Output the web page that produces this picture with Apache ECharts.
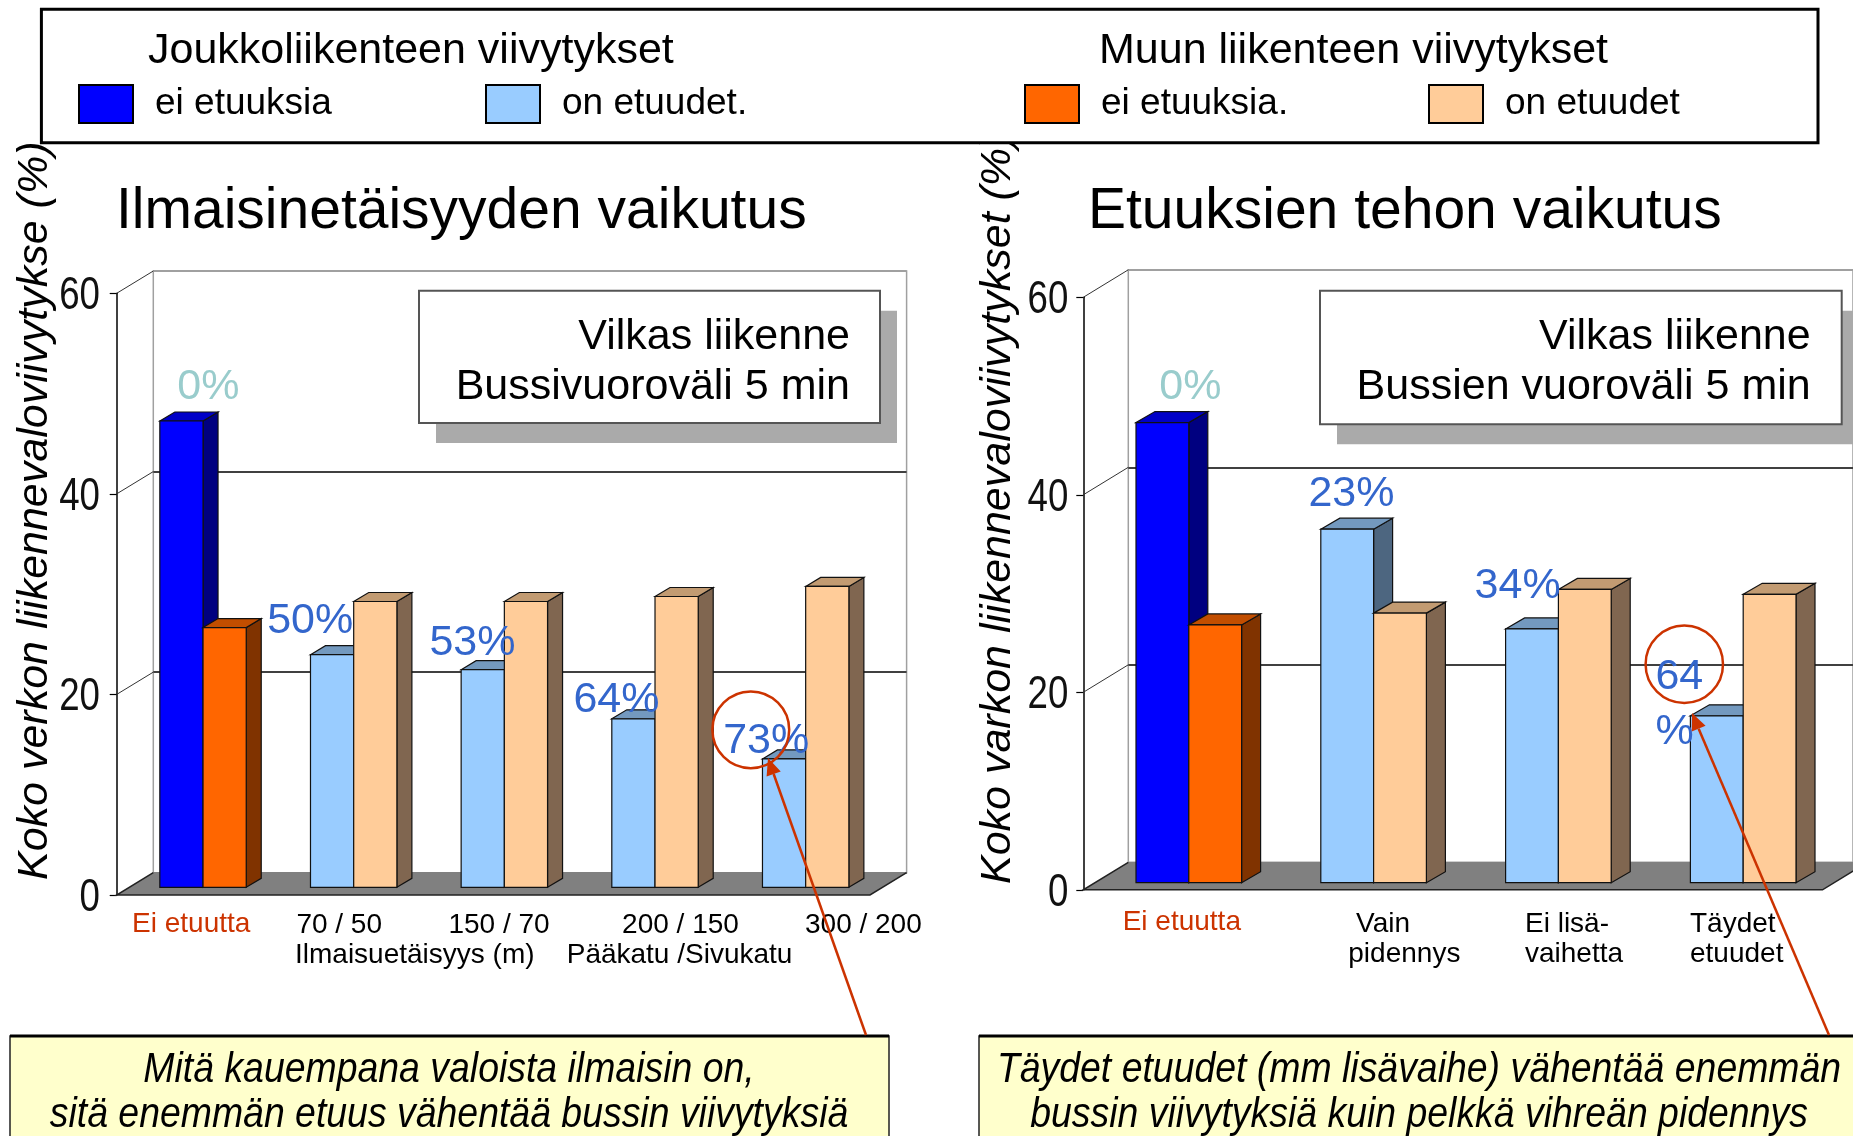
<!DOCTYPE html>
<html>
<head>
<meta charset="utf-8">
<title>Viivytykset</title>
<script src="https://cdn.jsdelivr.net/npm/echarts/dist/echarts.min.js"></script>
<style>
html, body { margin: 0; padding: 0; background: #fff; }
#main { width: 1853px; height: 1136px; }
</style>
</head>
<body>
<div id="main"></div>
<script>
// kategoriat ja akselin jaot
const leftCats = ['Ei etuutta', '70 / 50', '150 / 70', '200 / 150', '300 / 200']
const rightCats = ['Ei etuutta', ' Vain\npidennys', 'Ei lisä-\nvaihetta', 'Täydet\netuudet']
const yTicks = [0, 20, 40, 60]

// joukkoliikenne (jl) ja muu liikenne (mu), luettu kuvasta
const leftJlEi = [46.5, null, null, null, null]
const leftJlOn = [null, 23.2, 21.7, 16.8, 12.8]
const leftMuEi = [25.9, null, null, null, null]
const leftMuOn = [null, 28.5, 28.5, 29.0, 30.0]
const rightJlEi = [46.6, null, null, null]
const rightJlOn = [null, 35.8, 25.7, 16.9]
const rightMuEi = [26.1, null, null, null]
const rightMuOn = [null, 27.3, 29.7, 29.2]

// vähennysprosentit
const leftPct = ['0%', '50%', '53%', '64%', '73%']
const rightPct = ['0%', '23%', '34%', '64\n%']

const FONT = '"Liberation Sans", Arial, sans-serif'
const MID = 0.27 // keskilinjan etäisyys peruslinjasta (em)

const names = ['ei etuuksia', 'on etuudet.', 'ei etuuksia.', 'on etuudet']
const faces = {
    'ei etuuksia': { front: '#0000ff', side: '#000080', top: '#0000c8' },
    'on etuudet.': { front: '#99ccff', side: '#4d6680', top: '#7399bf' },
    'ei etuuksia.': { front: '#ff6600', side: '#803300', top: '#c24e00' },
    'on etuudet': { front: '#ffcc99', side: '#806650', top: '#c29b72' }
}

// 3D-asettelu: etutaso = grid, takaseinä siirretty syvyyden verran
const layout = [
    {
        front: { left: 116.7, top: 293.3, width: 753.3, height: 601.7 }, depth: [36.6, -22.3],
        barOff: [11, -7.7], barW: 43.2, barDepth: [15, -9], tickGap: 16.7,
        pctOff: [[17.4, -22.7], [-43.3, -21.6], [-31.7, -15], [-38.4, -7.3], [-39.3, -6]],
        xlab: [[-0.8, 36.5, 'center'], [-3.5, 37.5, 'center'], [5.7, 37.5, 'center'], [36.5, 37.5, 'center'], [68.7, 37.5, 'center']]
    },
    {
        front: { left: 1083.3, top: 297.3, width: 739.2, height: 592.5 }, depth: [45, -27.5],
        barOff: [13.1, -7.1], barW: 52.8, barDepth: [19, -11], tickGap: 15,
        pctOff: [[23.3, -23.4], [-12.4, -23.3], [-31, -31], [-35, -27.4]],
        xlab: [[6.1, 40.5, 'center'], [-12.2, 42, 'left'], [-20.3, 42, 'left'], [-40.1, 42, 'left']]
    }
]

function toData(arr) {
    return arr.map((v, i) => v == null ? null : [i, v]).filter(Boolean)
}

function barRender(c, slot, col) {
    return function (params, api) {
        const L = layout[c]
        const top = api.coord([api.value(0), api.value(1)])
        const base = api.coord([api.value(0), 0])
        const x0 = top[0] + L.barOff[0] + (slot - 1) * L.barW
        const xr = x0 + L.barW
        const yt = top[1] + L.barOff[1]
        const yb = base[1] + L.barOff[1]
        const dx = L.barDepth[0], dy = L.barDepth[1]
        const edge = { stroke: '#111', lineWidth: 1.2 }
        return {
            type: 'group',
            children: [
                { type: 'polygon', shape: { points: [[xr, yt], [xr + dx, yt + dy], [xr + dx, yb + dy], [xr, yb]] }, style: Object.assign({ fill: col.side }, edge) },
                { type: 'polygon', shape: { points: [[x0, yt], [x0 + dx, yt + dy], [xr + dx, yt + dy], [xr, yt]] }, style: Object.assign({ fill: col.top }, edge) },
                { type: 'rect', shape: { x: x0, y: yt, width: L.barW, height: yb - yt }, style: Object.assign({ fill: col.front }, edge) }
            ]
        }
    }
}

// lattia, syvyysviivat ja y-akselin kapeat luvut
function frameRender(c) {
    return function (params, api) {
        const L = layout[c], cs = params.coordSys
        const dx = L.depth[0], dy = L.depth[1]
        const y0 = cs.y + cs.height, xl = cs.x, xr = cs.x + cs.width
        const kids = [
            { type: 'polygon', shape: { points: [[xl, y0], [xr, y0], [xr + dx, y0 + dy], [xl + dx, y0 + dy]] }, style: { fill: '#808080' } },
            { type: 'polyline', shape: { points: [[xl + dx, y0 + dy], [xl, y0], [xr, y0], [xr + dx, y0 + dy]] }, style: { stroke: '#222', lineWidth: 1.5, fill: 'none' } }
        ]
        yTicks.forEach(v => {
            const y = api.coord([0, v])[1]
            if (v > yTicks[0]) {
                kids.push({ type: 'line', shape: { x1: xl, y1: y, x2: xl + dx, y2: y + dy }, style: { stroke: '#333', lineWidth: 1 } })
            }
            kids.push({
                type: 'text', x: xl - L.tickGap, y: y + 3, scaleX: 0.78,
                style: { text: String(v), x: 0, y: 0, font: '47px ' + FONT, fill: '#111', textAlign: 'right', textVerticalAlign: 'middle' }
            })
        })
        return { type: 'group', children: kids }
    }
}

function pctRender(c, labels) {
    return function (params, api) {
        const L = layout[c]
        const i = api.value(0)
        const p = api.coord([i, api.value(1)])
        const off = L.pctOff[i]
        const x = p[0] + L.barOff[0] - L.barW + off[0]
        const base = p[1] + L.barOff[1] + off[1]
        const lines = labels[i].split('\n').length
        return {
            type: 'text',
            style: {
                text: labels[i], x: x, y: base - 43 * MID + (lines - 1) * 27.5,
                font: '43px ' + FONT, fill: i === 0 ? '#99cccc' : '#3366cc',
                textAlign: 'left', textVerticalAlign: 'middle', lineHeight: 55
            }
        }
    }
}

function xlabRender(c, cats) {
    return function (params, api) {
        const i = api.value(0)
        const p = api.coord([i, 0])
        const o = layout[c].xlab[i]
        const lines = cats[i].split('\n').length
        return {
            type: 'text',
            style: {
                text: cats[i], x: p[0] + o[0], y: p[1] + o[1] - 28 * MID + (lines - 1) * 15,
                font: '28px ' + FONT, fill: i === 0 ? '#cc3300' : '#000',
                textAlign: o[2], textVerticalAlign: 'middle', lineHeight: 30
            }
        }
    }
}

function chartSeries(c, cats, jlEi, jlOn, muEi, muOn, pct) {
    const ax = c * 2
    const out = [{
        name: 'frame' + c, type: 'custom', xAxisIndex: ax, yAxisIndex: ax, z: 2, silent: true,
        renderItem: frameRender(c), data: [[0, 0]], encode: { x: 0, y: 1 }
    }]
    const sets = [jlEi, jlOn, muEi, muOn]
    sets.forEach((arr, k) => {
        const nm = names[k]
        out.push({
            name: nm, type: 'custom', xAxisIndex: ax, yAxisIndex: ax, z: 3,
            itemStyle: { color: faces[nm].front },
            renderItem: barRender(c, k < 2 ? 0 : 1, faces[nm]),
            data: toData(arr), encode: { x: 0, y: 1 }
        })
    })
    const jl = cats.map((_, i) => jlEi[i] != null ? jlEi[i] : jlOn[i])
    out.push({
        name: 'pct' + c, type: 'custom', xAxisIndex: ax, yAxisIndex: ax, z: 4, silent: true,
        renderItem: pctRender(c, pct), data: jl.map((v, i) => [i, v]), encode: { x: 0, y: 1 }
    })
    out.push({
        name: 'xlab' + c, type: 'custom', xAxisIndex: ax, yAxisIndex: ax, z: 4, silent: true,
        renderItem: xlabRender(c, cats), data: cats.map((_, i) => [i, 0]), encode: { x: 0, y: 1 }
    })
    return out
}

function grids() {
    const g = []
    layout.forEach(L => {
        const f = L.front
        g.push({ left: f.left, top: f.top, width: f.width, height: f.height })
        g.push({
            left: f.left + L.depth[0], top: f.top + L.depth[1], width: f.width, height: f.height,
            show: true, borderColor: '#a0a0a0', borderWidth: 1.5, backgroundColor: 'transparent'
        })
    })
    return g
}

const yBase = { type: 'value', min: yTicks[0], max: yTicks[yTicks.length - 1], interval: yTicks[1] - yTicks[0] }
function frontY(gi) {
    return Object.assign({}, yBase, {
        gridIndex: gi,
        axisLine: { show: true, lineStyle: { color: '#000', width: 1.5 } },
        axisTick: { show: true, length: 7, lineStyle: { color: '#000', width: 1.2 } },
        axisLabel: { show: false },
        splitLine: { show: false }
    })
}
function backY(gi) {
    return Object.assign({}, yBase, {
        gridIndex: gi,
        axisLine: { show: false }, axisTick: { show: false }, axisLabel: { show: false },
        splitLine: { show: true, lineStyle: { color: ['#808080', '#404040', '#404040', '#a0a0a0'], width: 2 } }
    })
}
function hiddenX(gi, cats) {
    return { type: 'category', gridIndex: gi, data: cats, show: false }
}

function txt(x, baseline, text, size, extra) {
    return Object.assign({
        type: 'text', z: 4,
        style: { text: text, x: x, y: baseline - size * MID, font: size + 'px ' + FONT, fill: '#000', textAlign: 'left', textVerticalAlign: 'middle' }
    }, extra || {})
}
function styled(el, st) {
    Object.assign(el.style, st)
    return el
}

function arrow(x1, y1, x2, y2) {
    const len = Math.hypot(x2 - x1, y2 - y1)
    const ux = (x2 - x1) / len, uy = (y2 - y1) / len
    const bx = x2 - ux * 17, by = y2 - uy * 17
    return [
        { type: 'line', z: 10, shape: { x1: x1, y1: y1, x2: bx, y2: by }, style: { stroke: '#cc3300', lineWidth: 2.5 } },
        { type: 'polygon', z: 10, shape: { points: [[x2, y2], [bx - uy * 7.5, by + ux * 7.5], [bx + uy * 7.5, by - ux * 7.5]] }, style: { fill: '#cc3300' } }
    ]
}

function insetBox(x, y, w, h, tx, l1, l2) {
    return [
        { type: 'rect', z: 4, shape: { x: x + 17, y: y + 20, width: w, height: h }, style: { fill: '#aaaaaa' } },
        { type: 'rect', z: 4, shape: { x: x, y: y, width: w, height: h }, style: { fill: '#fff', stroke: '#555', lineWidth: 2 } },
        styled(txt(tx, 348.5, l1, 43), { textAlign: 'right' }),
        styled(txt(tx, 398.5, l2, 43), { textAlign: 'right' })
    ]
}

// kapea kursiivi: skaalataan keskipisteen ympäri
function noteLine(cx, baseline, text) {
    return {
        type: 'text', z: 4, x: cx, y: baseline - 43 * MID, scaleX: 0.87,
        style: { text: text, x: 0, y: 0, font: 'italic 43px ' + FONT, fill: '#000', textAlign: 'center', textVerticalAlign: 'middle' }
    }
}

function noteBox(x, w, cx, l1, l2) {
    return [
        { type: 'rect', z: 4, shape: { x: x, y: 1036, width: w, height: 110 }, style: { fill: '#ffffcc', stroke: '#222', lineWidth: 1.5 } },
        { type: 'line', z: 4, shape: { x1: x, y1: 1036, x2: x + w, y2: 1036 }, style: { stroke: '#000', lineWidth: 3 } },
        noteLine(cx, 1081.5, l1),
        noteLine(cx, 1126.5, l2)
    ]
}

function legendItem(name, left) {
    return {
        data: [name], left: left, top: 84, padding: 0, orient: 'horizontal', z: 6,
        icon: 'rect', itemWidth: 54, itemHeight: 38,
        itemStyle: { borderColor: '#000', borderWidth: 2 },
        textStyle: { fontSize: 37, fontFamily: FONT, color: '#000', padding: [6, 0, 0, 17] },
        selectedMode: false
    }
}

var myChart = echarts.init(document.getElementById('main'), null, { renderer: 'canvas' })

const graphics = [].concat(
    [
        { type: 'text', z: 1, x: 35, y: 880, rotation: Math.PI / 2, style: { text: 'Koko verkon liikennevaloviivytykse (%)', x: 0, y: 0, font: 'italic 43px ' + FONT, fill: '#000', textAlign: 'left', textVerticalAlign: 'middle' } },
        { type: 'text', z: 1, x: 998.5, y: 884, rotation: Math.PI / 2, style: { text: 'Koko varkon liikennevaloviivytykset (%)', x: 0, y: 0, font: 'italic 43px ' + FONT, fill: '#000', textAlign: 'left', textVerticalAlign: 'middle' } },
        { type: 'rect', z: 3, shape: { x: 41.4, y: 9.3, width: 1776.6, height: 133.4 }, style: { fill: '#fff', stroke: '#000', lineWidth: 3 } },
        txt(148, 62.5, 'Joukkoliikenteen viivytykset', 43),
        txt(1099, 62.5, 'Muun liikenteen viivytykset', 43),
        txt(116, 228, 'Ilmaisinetäisyyden vaikutus', 57),
        txt(1088, 228, 'Etuuksien tehon vaikutus', 57),
        txt(295, 963, 'Ilmaisuetäisyys (m)', 28),
        txt(566.7, 963, 'Pääkatu /Sivukatu', 28)
    ],
    insetBox(419, 290.7, 461, 132.3, 850, 'Vilkas liikenne', 'Bussivuoroväli 5 min'),
    insetBox(1320, 290.7, 521.7, 133.6, 1810.7, 'Vilkas liikenne', 'Bussien vuoroväli 5 min'),
    noteBox(10, 879, 449, 'Mitä kauempana valoista ilmaisin on,', 'sitä enemmän etuus vähentää bussin viivytyksiä'),
    noteBox(979, 900, 1419, 'Täydet etuudet (mm lisävaihe) vähentää enemmän', 'bussin viivytyksiä kuin pelkkä vihreän pidennys'),
    [
        { type: 'circle', z: 10, shape: { cx: 750.8, cy: 729.8, r: 38.4 }, style: { fill: 'none', stroke: '#cc3300', lineWidth: 2.5 } },
        { type: 'circle', z: 10, shape: { cx: 1684.3, cy: 664.2, r: 38.7 }, style: { fill: 'none', stroke: '#cc3300', lineWidth: 2.5 } }
    ],
    arrow(866, 1035, 768, 758),
    arrow(1829, 1035, 1692, 713)
)

const option = {
    animation: false,
    backgroundColor: '#fff',
    legend: [
        legendItem(names[0], 78),
        legendItem(names[1], 485),
        legendItem(names[2], 1024),
        legendItem(names[3], 1428)
    ],
    grid: grids(),
    xAxis: [hiddenX(0, leftCats), hiddenX(1, leftCats), hiddenX(2, rightCats), hiddenX(3, rightCats)],
    yAxis: [frontY(0), backY(1), frontY(2), backY(3)],
    graphic: graphics,
    series: [].concat(
        chartSeries(0, leftCats, leftJlEi, leftJlOn, leftMuEi, leftMuOn, leftPct),
        chartSeries(1, rightCats, rightJlEi, rightJlOn, rightMuEi, rightMuOn, rightPct)
    )
}

myChart.setOption(option)
</script>
</body>
</html>
